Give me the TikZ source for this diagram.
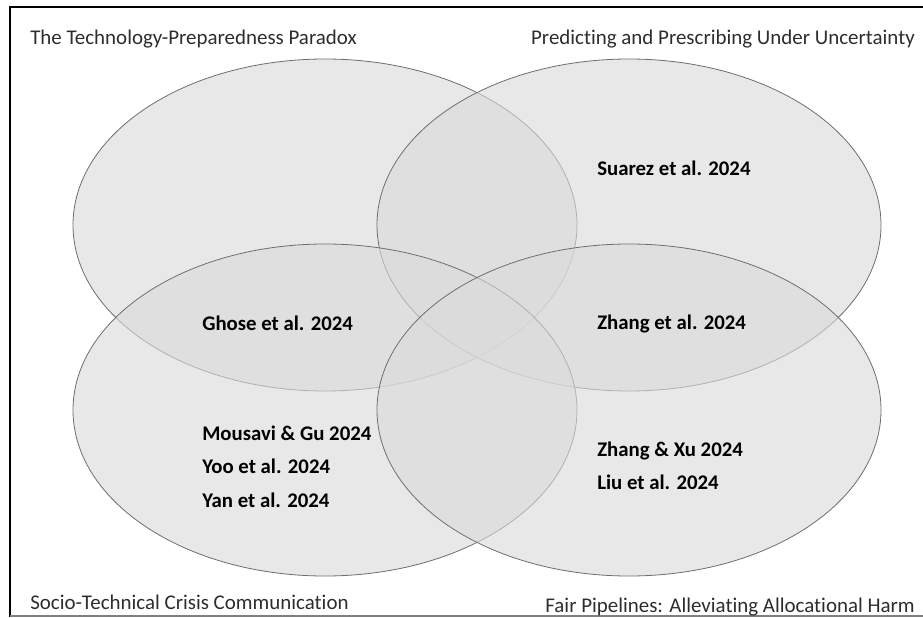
\documentclass[tikz,border=0pt]{standalone}
\usepackage{fontspec}
\setmainfont{Carlito}[Ligatures=NoCommon]
\usepackage{tikz}
\definecolor{setfill}{RGB}{218,218,218}
\definecolor{setedge}{RGB}{110,110,110}
\definecolor{titlegray}{RGB}{45,45,45}

\begin{document}
\begin{tikzpicture}[x=0.75pt,y=-0.75pt,
    venn set/.style={fill=setfill,fill opacity=0.62,draw=setedge,line width=0.6pt},
    title node/.style={inner sep=0pt,text=titlegray,font=\fontsize{15.7}{19}\selectfont},
    paper node/.style={inner sep=0pt,anchor=base west,font=\fontsize{15.6}{19}\selectfont\bfseries}]
      \useasboundingbox (0,0) rectangle (923,617);
      % frame
      \draw[line width=1.9pt] (10,617) -- (10,7) -- (930,7);
      \draw[gray,line width=0.9pt] (10,616) -- (930,616);

      % the four sets
      \draw[venn set] (325,225) ellipse [x radius=189pt, y radius=124.5pt];
      \draw[venn set] (629,225) ellipse [x radius=189pt, y radius=124.5pt];
      \draw[venn set] (325,410) ellipse [x radius=189pt, y radius=124.5pt];
      \draw[venn set] (629,410) ellipse [x radius=189pt, y radius=124.5pt];

      % set titles
      \node[title node,anchor=base west] (TP) at (30,45) {The Technology-Preparedness Paradox};
      \node[title node,anchor=base east] (PP) at (915,45) {Predicting and Prescribing Under Uncertainty};
      \node[title node,anchor=base west] (SC) at (30,609) {Socio-Technical Crisis Communication};
      \node[title node,anchor=base east] (FP) at (915,612) {Fair Pipelines: Alleviating Allocational Harm};

      % papers
      \node[paper node] (ghose) at (202,330) {Ghose et al. 2024};
      \node[paper node] (mousavi) at (202,440) {Mousavi \& Gu 2024};
      \node[paper node] (yoo) at (202,473) {Yoo et al. 2024};
      \node[paper node] (yan) at (202,507) {Yan et al. 2024};
      \node[paper node] (suarez) at (597,175) {Suarez et al. 2024};
      \node[paper node] (zhang) at (597,329) {Zhang et al. 2024};
      \node[paper node] (zhangxu) at (597,456) {Zhang \& Xu 2024};
      \node[paper node] (liu) at (597,489) {Liu et al. 2024};
\end{tikzpicture}
\end{document}
